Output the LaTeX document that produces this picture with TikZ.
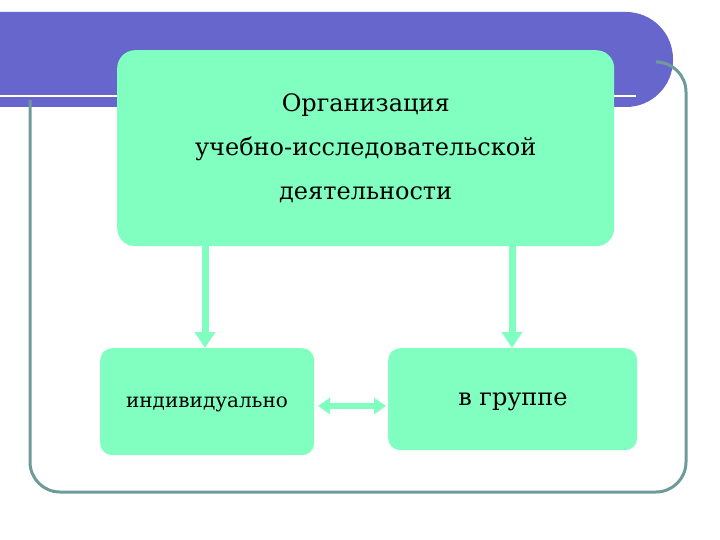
\documentclass[tikz,border=0pt]{standalone}
\usepackage{fontspec}
\setmainfont{DejaVu Serif}
\usetikzlibrary{arrows.meta}
\definecolor{band}{HTML}{6666CC}
\definecolor{mint}{HTML}{80FFC0}
\definecolor{frame}{HTML}{6E9A9A}
\tikzset{box/.style={fill=mint,rounded corners=18pt,draw=none},
 fat/.style={mint,line width=7pt,-{Triangle[length=16pt,width=20pt]}},
 fatd/.style={mint,line width=6pt,{Triangle[length=12pt,width=16pt]}-{Triangle[length=12pt,width=16pt]}}}
\begin{document}
\begin{tikzpicture}[x=1pt,y=-1pt]
\useasboundingbox (0,0) rectangle (720,540);
\fill[band] (0,12) [rounded corners=47pt] -- (673,12) -- (673,107) [sharp corners] -- (0,107) -- cycle;
\draw[white,line width=2pt] (0,96) -- (636,96);
\draw[frame,line width=3pt,rounded corners=30pt] (30,100) -- (30,492) -- (686,492) -- (686,62) -- (660,62);
\node[box,minimum width=497pt,minimum height=196pt,anchor=north west] (top) at (117,50) {};
\node[align=center,font=\fontsize{24}{44}\selectfont] (tt) at (top.center) {Организация\\учебно-исследовательской\\деятельности};
\node[box,minimum width=214pt,minimum height=107pt,anchor=north west,rounded corners=12pt] (ind) at (100,348) {};
\node[box,minimum width=249pt,minimum height=102pt,anchor=north west,rounded corners=12pt] (grp) at (388,348) {};
\node[font=\fontsize{20}{24}\selectfont] at (207,404) {индивидуально};
\node[font=\fontsize{24}{28}\selectfont] at (513,402) {в группе};
\draw[fat] (top.south -| 205,0) -- (ind.north -| 205,0);
\draw[fat] (top.south -| 512,0) -- (grp.north -| 512,0);
\draw[fatd] (318,406) -- (386,406);
\end{tikzpicture}
\end{document}
